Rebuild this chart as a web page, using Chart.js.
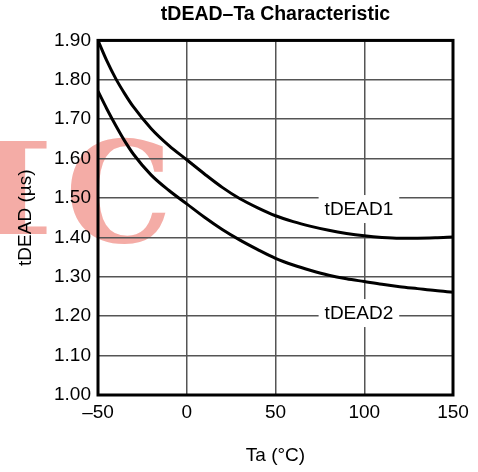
<!DOCTYPE html>
<html>
<head>
<meta charset="utf-8">
<script src="https://cdn.jsdelivr.net/npm/chart.js@4"></script>
<style>
html,body{margin:0;padding:0;background:#ffffff;}
canvas{display:block;}
</style>
</head>
<body>
<canvas id="c" width="478" height="472"></canvas>
<script>
// ---- data ----
const chartTitle = 'tDEAD\u2013Ta Characteristic';
const xAxisTitle = 'Ta (\u00B0C)';
const yAxisTitle = 'tDEAD (\u00B5s)';
const seriesNames = ['tDEAD1', 'tDEAD2'];
const temperatures = [-50, -45, -40, -35, -30, -20, -10, 0, 10, 20, 30, 40, 50, 60, 70, 80, 90, 100, 110, 120, 130, 140, 150];
const tDead1 = [1.900, 1.848, 1.803, 1.765, 1.731, 1.676, 1.633, 1.597, 1.561, 1.527, 1.498, 1.475, 1.455, 1.440, 1.428, 1.418, 1.410, 1.404, 1.400, 1.398, 1.398, 1.399, 1.401];
const tDead2 = [1.771, 1.726, 1.684, 1.645, 1.611, 1.558, 1.519, 1.485, 1.451, 1.420, 1.393, 1.369, 1.347, 1.330, 1.316, 1.304, 1.295, 1.288, 1.281, 1.275, 1.270, 1.265, 1.261];
const xTickValues = [-50, 0, 50, 100, 150];
const xTickLabels = ['\u201350', '0', '50', '100', '150'];
const yTickLabels = ['1.00', '1.10', '1.20', '1.30', '1.40', '1.50', '1.60', '1.70', '1.80', '1.90'];
const watermarkText = ['I', 'C'];

const FONT = '"Liberation Sans", Arial, Helvetica, sans-serif';

const toPoints = (vals) => temperatures.map((t, i) => ({x: t, y: vals[i]}));

// draw a glyph so that its ink fills a given box
function fillGlyphInBox(ctx, ch, font, box) {
  ctx.save();
  ctx.font = font;
  ctx.textAlign = 'left';
  ctx.textBaseline = 'alphabetic';
  const m = ctx.measureText(ch);
  const inkW = m.actualBoundingBoxLeft + m.actualBoundingBoxRight;
  const inkH = m.actualBoundingBoxAscent + m.actualBoundingBoxDescent;
  const sx = (box.x1 - box.x0) / inkW;
  const sy = (box.y1 - box.y0) / inkH;
  ctx.translate(box.x0, box.y0);
  ctx.scale(sx, sy);
  ctx.fillText(ch, m.actualBoundingBoxLeft, m.actualBoundingBoxAscent);
  ctx.restore();
}

// watermark behind everything
const watermarkPlugin = {
  id: 'watermark',
  beforeDraw(chart) {
    const ctx = chart.ctx;
    ctx.save();
    ctx.fillStyle = '#f4aca6';
    fillGlyphInBox(ctx, watermarkText[0], 'bold 140px "DejaVu Serif", serif', {x0: -40, x1: 48, y0: 140, y1: 234});
    fillGlyphInBox(ctx, watermarkText[1], 'bold 140px "DejaVu Serif", serif', {x0: 70, x1: 166, y0: 137, y1: 244});
    ctx.restore();
  }
};

// in-plot series labels with white boxes covering grid
const seriesLabelPlugin = {
  id: 'seriesLabels',
  beforeDatasetsDraw(chart, args, opts) {
    const {ctx, scales: {x, y}} = chart;
    ctx.save();
    ctx.font = '19px ' + FONT;
    ctx.textAlign = 'center';
    ctx.textBaseline = 'middle';
    opts.items.forEach(it => {
      const px = x.getPixelForValue(it.x);
      const py = y.getPixelForValue(it.y);
      const w = ctx.measureText(it.text).width + 12;
      const h = 28;
      ctx.fillStyle = '#ffffff';
      ctx.fillRect(px - w / 2, py - h / 2, w, h);
      ctx.fillStyle = '#000000';
      ctx.fillText(it.text, px, py + 1);
    });
    ctx.restore();
  }
};

// heavy frame around plot
const framePlugin = {
  id: 'frame',
  afterDatasetsDraw(chart) {
    const {ctx, chartArea: a} = chart;
    ctx.save();
    ctx.strokeStyle = '#000000';
    ctx.lineWidth = 3;
    ctx.strokeRect(a.left, a.top, a.right - a.left, a.bottom - a.top);
    ctx.restore();
  }
};

new Chart(document.getElementById('c'), {
  type: 'line',
  data: {
    datasets: [
      {label: seriesNames[0], data: toPoints(tDead1), borderColor: '#000', borderWidth: 3, pointRadius: 0, fill: false, cubicInterpolationMode: 'monotone'},
      {label: seriesNames[1], data: toPoints(tDead2), borderColor: '#000', borderWidth: 3, pointRadius: 0, fill: false, cubicInterpolationMode: 'monotone'}
    ]
  },
  options: {
    responsive: false,
    animation: false,
    devicePixelRatio: 1,
    layout: {padding: {left: 0, right: 25, top: 0, bottom: 0}},
    plugins: {
      legend: {display: false},
      tooltip: {enabled: false},
      title: {
        display: true,
        text: chartTitle,
        fullSize: false,
        color: '#000',
        font: {family: FONT, size: 19.5, weight: 'bold', lineHeight: 1.2},
        padding: {top: 3, bottom: 14}
      },
      seriesLabels: {
        items: [
          {text: seriesNames[0], x: 97, y: 1.472},
          {text: seriesNames[1], x: 97, y: 1.208}
        ]
      }
    },
    scales: {
      x: {
        type: 'linear',
        min: -50, max: 150,
        afterBuildTicks(scale) { scale.ticks = xTickValues.map(v => ({value: v})); },
        afterFit(scale) { scale.height = 77; },
        grid: {color: '#555', lineWidth: 1.5, drawTicks: false},
        border: {display: false},
        ticks: {
          color: '#000', padding: 6, maxRotation: 0, autoSkip: false,
          font: {family: FONT, size: 19},
          callback: (v, i) => xTickLabels[i]
        },
        title: {display: true, text: xAxisTitle, color: '#000', font: {family: FONT, size: 19}, padding: {top: 0, bottom: 5}}
      },
      y: {
        type: 'linear',
        min: 1.0, max: 1.9,
        afterBuildTicks(scale) { scale.ticks = yTickLabels.map(s => ({value: parseFloat(s)})); },
        afterFit(scale) { scale.width = 98; },
        grid: {color: '#555', lineWidth: 1.5, drawTicks: false},
        border: {display: false},
        ticks: {
          color: '#000', padding: 7, autoSkip: false,
          font: {family: FONT, size: 19},
          callback: (v, i) => yTickLabels[i]
        },
        title: {display: true, text: yAxisTitle, color: '#000', font: {family: FONT, size: 19}, padding: {top: 14, bottom: 0}}
      }
    }
  },
  plugins: [watermarkPlugin, seriesLabelPlugin, framePlugin]
});
</script>
</body>
</html>
